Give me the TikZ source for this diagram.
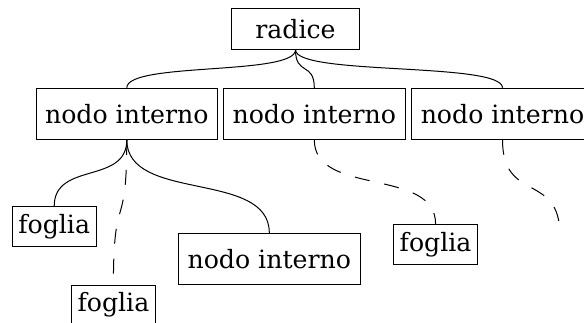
\documentclass[tikz,border=0pt]{standalone}
\usepackage{fontspec}
\setmainfont{DejaVu Serif}
\usetikzlibrary{positioning}

\begin{document}
\begin{tikzpicture}[
      x=1pt, y=-1pt,
      line width=1pt,
      every node/.style={font=\fontsize{25.2}{30}\selectfont},
      rootbox/.style={
        rectangle,
        draw,
        inner sep=0pt,
        minimum width=128pt,
        minimum height=41pt,
      },
      innerbox/.style={
        rectangle,
        draw,
        inner sep=0pt,
        minimum width=181.5pt,
        minimum height=51pt,
      },
      leafbox/.style={
        rectangle,
        draw,
        inner sep=0pt,
        minimum width=84pt,
        minimum height=40pt,
      },
      hiddenedge/.style={dash pattern=on 15pt off 15pt}
      ]
      \useasboundingbox (0,0) rectangle (584,322);
      \node[rootbox] (root) at (295.5,28.8) {radice};
      \node[innerbox] (n1) at (126.8,113.8) {nodo interno};
      \node[innerbox] (n2) at (314.3,113.8) {nodo interno};
      \node[innerbox] (n3) at (502.5,113.8) {nodo interno};
      \node[leafbox] (f1) at (54.2,226.7) {foglia};
      \node[leafbox] (f2) at (113.4,305) {foglia};
      \node[innerbox] (n4) at (269.3,258.8) {nodo interno};
      \node[leafbox] (f3) at (435.6,244.5) {foglia};
      \coordinate (e3) at (560,235.5);
      % root to first level
      \draw (root.south) .. controls +(0,26) and +(0,-26) .. (n1.north);
      \draw (root.south) .. controls +(0,26) and +(0,-26) .. (n2.north);
      \draw (root.south) .. controls +(0,26) and +(0,-26) .. (n3.north);
      % second level
      \draw (n1.south) .. controls +(0,45) and +(0,-45) .. (f1.north);
      \draw (n1.south) .. controls +(0,63) and +(0,-63) .. (n4.north);
      \draw[hiddenedge] (n1.south) .. controls +(0,97) and +(0,-97) .. (f2.north);
      \draw[hiddenedge] (n2.south) .. controls +(0,57) and +(0,-57) .. (f3.north);
      \draw[hiddenedge] (n3.south) .. controls +(0,64) and +(0,-64) .. (e3);
    \end{tikzpicture}
\end{document}
